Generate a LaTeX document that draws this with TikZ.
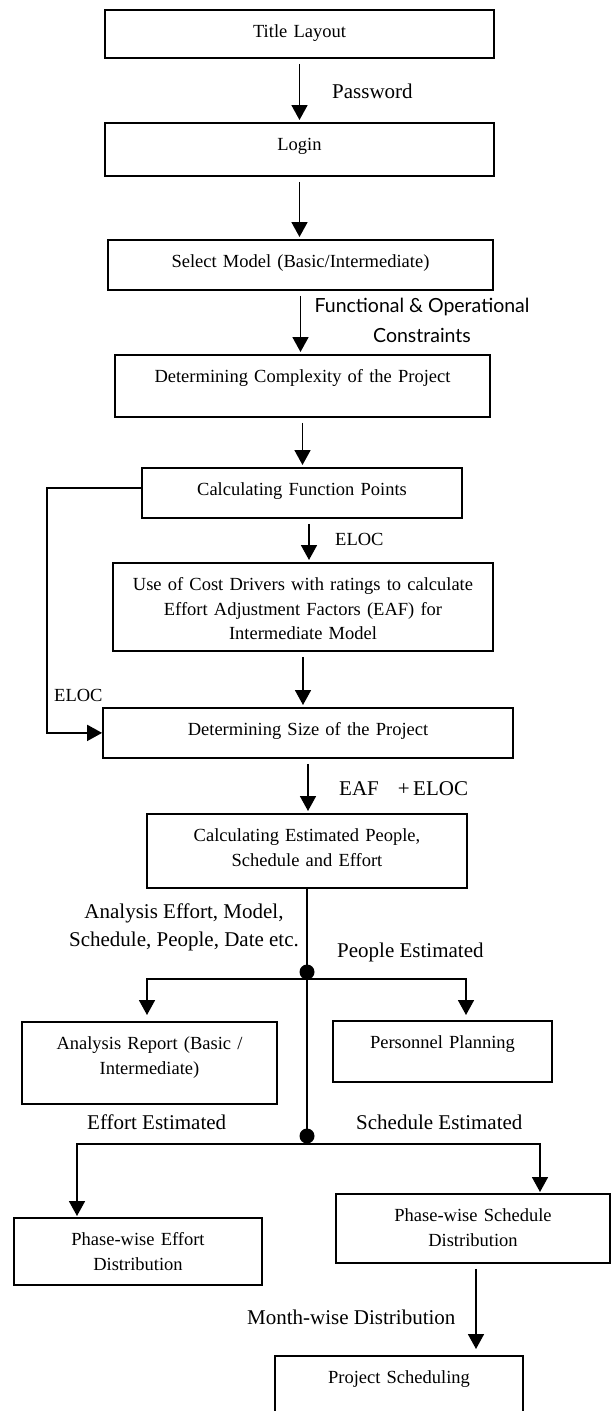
\documentclass[tikz,border=0pt]{standalone}
\usepackage{fontspec}
\setmainfont{Liberation Serif}
\newfontfamily\lblsans{Lato}
\usetikzlibrary{arrows.meta}
\tikzset{
    proc_box/.style = {draw=black, line width=1.8pt, align=center, anchor=north, inner xsep=0pt, inner ysep=0pt, text height=28pt, font=\fontsize{18.5}{24.5}\selectfont},
    arrow_lbl/.style = {anchor=west, inner sep=0pt, font=\fontsize{21}{28}\selectfont},
    small_lbl/.style = {arrow_lbl, font=\fontsize{18.5}{24.5}\selectfont},
    sans_lbl/.style = {align=center, inner sep=0pt, font=\lblsans\fontsize{19.5}{30}\selectfont},
    junction/.style = {circle, fill=black, inner sep=0pt, minimum size=15pt},
    flow/.style = {->, line width=1.8pt, shorten <=5pt, shorten >=2pt},
    wire/.style = {line width=1.8pt}
}

\begin{document}
\begin{tikzpicture}
    [>={Triangle[width=16pt,length=15pt]}, x=1pt, y=-1pt]

    \useasboundingbox (0,0) rectangle (611,1411);

    \node [proc_box, text width=389pt, text depth=20pt] (title) at (299.5,9) {Title Layout};
    \node [proc_box, text width=389pt, text depth=25pt] (login) at (299.5,122) {Login};
    \node [proc_box, text width=385pt, text depth=22pt] (select) at (300.5,239) {Select Model (Basic/Intermediate)};
    \node [proc_box, text width=375pt, text depth=34pt] (complexity) at (302.5,354) {Determining Complexity of the Project};
    \node [proc_box, text width=320pt, text depth=22pt] (funcpts) at (302,467) {Calculating Function Points};
    \node [proc_box, text width=380pt, text depth=60pt] (costdrv) at (303,562)
        {Use of Cost Drivers with ratings to calculate\\ Effort Adjustment Factors (EAF) for\\ Intermediate Model};
    \node [proc_box, text width=410pt, text depth=22pt] (size) at (308,707) {Determining Size of the Project};
    \node [proc_box, text width=320pt, text depth=46pt] (estim) at (307,813)
        {Calculating Estimated People,\\ Schedule and Effort};
    \node [proc_box, text width=255pt, text depth=54pt] (report) at (149.5,1021)
        {Analysis Report (Basic /\\ Intermediate)};
    \node [proc_box, text width=219pt, text depth=33pt] (personnel) at (442.5,1020) {Personnel Planning};
    \node [proc_box, text width=248pt, text depth=39pt] (effdist) at (138,1217)
        {Phase-wise Effort\\ Distribution};
    \node [proc_box, text width=274pt, text depth=41pt] (scheddist) at (473,1193)
        {Phase-wise Schedule\\ Distribution};
    \node [proc_box, text width=248pt, text depth=42pt] (projsched) at (399,1355) {Project Scheduling};

    \node [junction] (dot_people) at (307,972) {};
    \node [junction] (dot_sched) at (307,1136) {};
    \coordinate (br1_l) at (147,979);
    \coordinate (br1_r) at (466,979);
    \coordinate (br2_l) at (77,1144);
    \coordinate (br2_r) at (540,1144);

    \draw [flow] (title.south) -- (login.north);
    \draw [flow] (login.south) -- (login.south |- select.north);
    \draw [flow] (select.south) -- (select.south |- complexity.north);
    \draw [flow] (complexity.south) -- (complexity.south |- funcpts.north);
    \draw [flow] ([xshift=7pt]funcpts.south) -- ([xshift=7pt]funcpts.south |- costdrv.north);
    \draw [flow] (costdrv.south) -- (costdrv.south |- size.north);
    \draw [flow] (size.south) -- (size.south |- estim.north);
    \draw [flow, shorten <=0pt, shorten >=0pt] ([yshift=5pt]funcpts.west) -- ++(-94,0) |- (size.west);

    \draw [wire] (estim.south) -- (dot_sched.center);
    \draw [flow, <->, shorten <=6pt, shorten >=5pt] (br1_l |- report.north) -- (br1_l) -- (br1_r) -- (br1_r |- personnel.north);
    \draw [flow, <->, shorten <=1pt, shorten >=1pt] (br2_l |- effdist.north) -- (br2_l) -- (br2_r) -- (br2_r |- scheddist.north);
    \draw [flow, shorten >=6pt] ([xshift=3pt]scheddist.south) -- ([xshift=3pt]scheddist.south |- projsched.north);

    \node [arrow_lbl] (pw_lbl) at (332,91) {Password};
    \node [sans_lbl] (fo_lbl) at (422,320) {Functional \& Operational\\ Constraints};
    \node [small_lbl] (eloc_lbl) at (335,539) {ELOC};
    \node [small_lbl] (eloc_back_lbl) at (54,695) {ELOC};
    \node [arrow_lbl] (eaf_lbl) at (339,789) {EAF\hspace{19pt}+\,ELOC};
    \node [arrow_lbl, anchor=center, align=center] (analysis_lbl) at (184,927)
        {Analysis Effort, Model,\\ Schedule, People, Date etc.};
    \node [arrow_lbl] (people_lbl) at (337,952) {People Estimated};
    \node [arrow_lbl] (effort_lbl) at (87,1122) {Effort Estimated};
    \node [arrow_lbl] (sched_lbl) at (356,1122) {Schedule Estimated};
    \node [arrow_lbl] (month_lbl) at (247,1317) {Month-wise Distribution};
\end{tikzpicture}
\end{document}
